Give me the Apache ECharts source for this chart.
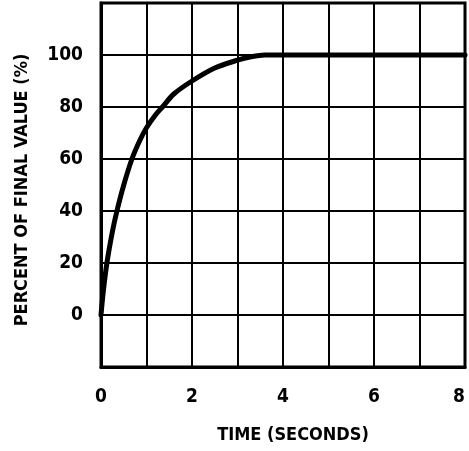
<!DOCTYPE html>
<html>
<head>
<meta charset="utf-8">
<style>
  html, body { margin: 0; padding: 0; background: #fff; }
  #chart { width: 469px; height: 451px; }
</style>
<script src="https://cdn.jsdelivr.net/npm/echarts@6/dist/echarts.min.js"></script>
</head>
<body>
<div id="chart"></div>
<script>
// Step response: time in seconds and percent of final value
const timeSeconds = [0, 0.05, 0.13, 0.25, 0.35, 0.5, 0.68, 0.85, 1.0, 1.2, 1.35, 1.6, 2.0, 2.5, 3.0, 3.3, 3.6, 4, 5, 6, 7, 8];
const percentFinal = [0, 9, 20, 32, 40, 50, 60, 67, 72, 77, 80, 85, 90, 95, 98, 99.3, 100, 100, 100, 100, 100, 100];

const xTickLabels = [0, 2, 4, 6, 8];
const yTickLabels = [0, 20, 40, 60, 80, 100];

const FONT = '"DejaVu Sans Condensed", "Liberation Sans Narrow", sans-serif';
const WEIGHT = 'bold condensed';

const chart = echarts.init(document.getElementById('chart'), null, { renderer: 'canvas' });

chart.setOption({
  animation: false,
  backgroundColor: '#ffffff',
  grid: {
    left: 101, right: 4, top: 3, bottom: 84,
    outerBoundsMode: 'none',
    show: true, borderColor: '#000', borderWidth: 3
  },
  xAxis: {
    type: 'value',
    min: 0, max: 8, interval: 1,
    name: 'TIME (SECONDS)',
    nameLocation: 'middle',
    nameGap: 59,
    nameTextStyle: { fontFamily: FONT, fontWeight: WEIGHT, fontSize: 18, color: '#000', padding: [0, 0, 0, 20] },
    axisLine: { show: true, onZero: false, lineStyle: { color: '#000', width: 3 } },
    axisTick: { show: false },
    axisLabel: {
      margin: 21,
      alignMaxLabel: 'right',
      fontFamily: FONT, fontWeight: WEIGHT, fontSize: 19, color: '#000',
      formatter: v => (xTickLabels.includes(v) ? String(v) : '')
    },
    splitLine: { show: true, lineStyle: { color: '#000', width: 2 } }
  },
  yAxis: {
    type: 'value',
    min: -20, max: 120, interval: 20,
    name: 'PERCENT OF FINAL VALUE (%)',
    nameLocation: 'middle',
    nameGap: 70,
    nameTextStyle: { fontFamily: FONT, fontWeight: WEIGHT, fontSize: 18, color: '#000', padding: [0, 10, 0, 0] },
    axisLine: { show: true, onZero: false, lineStyle: { color: '#000', width: 3 } },
    axisTick: { show: false },
    axisLabel: {
      margin: 18,
      fontFamily: FONT, fontWeight: WEIGHT, fontSize: 19, color: '#000',
      formatter: v => (yTickLabels.includes(v) ? String(v) : '')
    },
    splitLine: { show: true, lineStyle: { color: '#000', width: 2 } }
  },
  series: [{
    type: 'line',
    data: timeSeconds.map((t, i) => [t, percentFinal[i]]),
    smooth: 0.3,
    showSymbol: false,
    lineStyle: { color: '#000', width: 5, cap: 'round', join: 'round' }
  }]
});
</script>
</body>
</html>
